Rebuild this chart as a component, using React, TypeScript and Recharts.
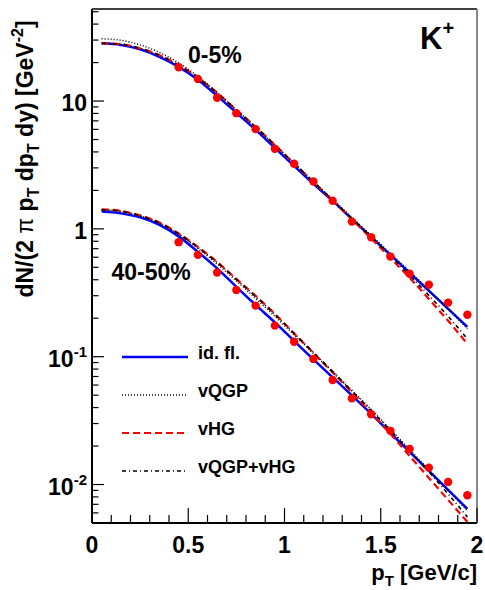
import React from 'react'
import { ComposedChart, Line, Scatter, XAxis, YAxis, ReferenceLine } from 'recharts'

const FONT = '"Liberation Sans", Arial, Helvetica, sans-serif'

// model curves, sampled in pT [GeV/c]
const modelPt = [0.05, 0.15, 0.25, 0.35, 0.45, 0.55, 0.65, 0.75, 0.85, 0.95, 1.05, 1.15, 1.25, 1.35, 1.45, 1.55, 1.65, 1.75, 1.85, 1.95]

// 0-5%
const idfl05 = [28.3, 27.5, 25.4, 22.2, 18.5, 14.7, 10.98, 8.08, 5.95, 4.3, 3.11, 2.25, 1.656, 1.197, 0.866, 0.626, 0.453, 0.327, 0.237, 0.171]
const vqgp05 = [30.7, 29.9, 27.5, 24.0, 19.9, 15.6, 11.7, 8.53, 6.28, 4.54, 3.28, 2.35, 1.7, 1.23, 0.889, 0.643, 0.465, 0.333, 0.237, 0.165]
const vhg05 = [28.3, 27.8, 25.8, 22.8, 19.2, 15.3, 11.6, 8.53, 6.28, 4.54, 3.25, 2.33, 1.671, 1.187, 0.843, 0.593, 0.414, 0.283, 0.191, 0.126]
const both05 = [28.3, 27.8, 25.8, 22.8, 19.0, 15.2, 11.5, 8.46, 6.23, 4.5, 3.25, 2.33, 1.686, 1.208, 0.866, 0.615, 0.433, 0.302, 0.207, 0.138]

// 40-50%
const idfl4050 = [1.366, 1.322, 1.23, 1.075, 0.874, 0.661, 0.491, 0.352, 0.254, 0.1855, 0.1329, 0.0953, 0.0689, 0.0498, 0.0357, 0.0253, 0.018, 0.01278, 0.00907, 0.00644]
const vqgp4050 = [1.41, 1.371, 1.264, 1.104, 0.906, 0.704, 0.532, 0.392, 0.286, 0.2067, 0.1481, 0.1061, 0.076, 0.0545, 0.0387, 0.027, 0.0188, 0.013, 0.009, 0.00625]
const vhg4050 = [1.421, 1.383, 1.275, 1.124, 0.922, 0.723, 0.552, 0.406, 0.299, 0.2163, 0.1522, 0.1071, 0.0754, 0.0526, 0.0363, 0.0249, 0.01674, 0.01126, 0.00758, 0.0051]
const both4050 = [1.41, 1.371, 1.264, 1.114, 0.914, 0.717, 0.547, 0.403, 0.296, 0.2143, 0.1522, 0.108, 0.0767, 0.054, 0.038, 0.0265, 0.01832, 0.01255, 0.00844, 0.00558]

// measured K+ points
const dataPt = [0.45, 0.55, 0.65, 0.75, 0.85, 0.95, 1.05, 1.15, 1.25, 1.35, 1.45, 1.55, 1.65, 1.75, 1.85, 1.95]
const data05 = [18.4, 14.9, 10.6, 8.04, 6.03, 4.23, 3.23, 2.35, 1.66, 1.14, 0.861, 0.607, 0.445, 0.365, 0.265, 0.213]
const data4050 = [0.787, 0.626, 0.455, 0.333, 0.251, 0.175, 0.131, 0.0961, 0.0658, 0.0472, 0.0355, 0.0263, 0.019, 0.01356, 0.01048, 0.00824]

const xTicks = [0, 0.1, 0.2, 0.3, 0.4, 0.5, 0.6, 0.7, 0.8, 0.9, 1, 1.1, 1.2, 1.3, 1.4, 1.5, 1.6, 1.7, 1.8, 1.9, 2]
const xMajor = [0, 0.5, 1, 1.5, 2]
const xLabels = ['0', '0.5', '1', '1.5', '2']

const yTicks = [0.005, 0.006, 0.007, 0.008, 0.009, 0.01, 0.02, 0.03, 0.04, 0.05, 0.06, 0.07, 0.08, 0.09, 0.1,
  0.2, 0.3, 0.4, 0.5, 0.6, 0.7, 0.8, 0.9, 1, 2, 3, 4, 5, 6, 7, 8, 9, 10, 20, 30, 40, 50]
const yMajor = [0.01, 0.1, 1, 10]
const yLabels = [['10', '-2'], ['10', '-1'], ['1', ''], ['10', '']]

const yDomain = [0.005, 52.5]

const series = [
  { name: 'id. fl.', stroke: '#0000ff', width: 2.5, dash: undefined as string | undefined },
  { name: 'vQGP', stroke: '#000', width: 1.5, dash: '1 2' },
  { name: 'vHG', stroke: '#ff0000', width: 2.2, dash: '7 4' },
  { name: 'vQGP+vHG', stroke: '#000', width: 1.6, dash: '4 3 1 3' },
]

const toPts = (xs: number[], ys: number[]) => xs.map((x, i) => ({ x, y: ys[i] }))

const XTick = (props: any) => {
  const { x, y, payload } = props
  const i = xMajor.indexOf(payload.value)
  const len = i >= 0 ? 15 : 8
  return (
    <g>
      <line x1={x} y1={y} x2={x} y2={y - len} stroke="#000" strokeWidth={1.2} />
      {i >= 0 && (
        <text x={x} y={y + 30} textAnchor="middle" fontFamily={FONT} fontWeight="bold" fontSize={23} fill="#000">
          {xLabels[i]}
        </text>
      )}
    </g>
  )
}

const YTick = (props: any) => {
  const { x, y, payload } = props
  const i = yMajor.indexOf(payload.value)
  const len = i >= 0 ? 12 : 6.5
  return (
    <g>
      <line x1={x} y1={y} x2={x + len} y2={y} stroke="#000" strokeWidth={1.2} />
      {i >= 0 && (
        <text x={x - 5} y={y + 10} textAnchor="end" fontFamily={FONT} fontWeight="bold" fontSize={23} fill="#000">
          {yLabels[i][0]}
          {yLabels[i][1] && <tspan fontSize={15} dy={-10}>{yLabels[i][1]}</tspan>}
        </text>
      )}
    </g>
  )
}

const Dot = (props: any) => <circle cx={props.cx} cy={props.cy} r={4.2} fill="#ff0000" />

export default function App() {
  const curves = [
    [idfl05, vqgp05, vhg05, both05],
    [idfl4050, vqgp4050, vhg4050, both4050],
  ]
  // draw order: id. fl., vHG, vQGP+vHG, vQGP
  const order = [0, 2, 3, 1]
  const legendY = [357, 395, 433, 471]

  return (
    <div style={{ position: 'absolute', left: 0, top: 0, width: 485, height: 590, background: '#fff' }}>
      <ComposedChart width={485} height={590} margin={{ top: 9, right: 8, bottom: 37, left: 32 }}>
        <XAxis
          type="number"
          dataKey="x"
          domain={[0, 2]}
          ticks={xTicks}
          interval={0}
          tickSize={0}
          tickMargin={0}
          height={30}
          tick={<XTick />}
          axisLine={{ stroke: '#000', strokeWidth: 2 }}
          tickLine={false}
          allowDataOverflow
        />
        <YAxis
          type="number"
          dataKey="y"
          scale="log"
          domain={yDomain}
          ticks={yTicks}
          interval={0}
          tickSize={0}
          tickMargin={0}
          width={60}
          tick={<YTick />}
          axisLine={{ stroke: '#000', strokeWidth: 2 }}
          tickLine={false}
          allowDataOverflow
        />
        <ReferenceLine y={yDomain[1]} stroke="#000" strokeWidth={1.5} />
        <ReferenceLine x={2} stroke="#888" strokeWidth={2} />
        {curves.map((set, c) =>
          order.map((k) => (
            <Line
              key={`${c}-${k}`}
              data={toPts(modelPt, set[k])}
              dataKey="y"
              type="monotone"
              stroke={series[k].stroke}
              strokeWidth={series[k].width}
              strokeDasharray={series[k].dash}
              dot={false}
              activeDot={false}
              isAnimationActive={false}
            />
          ))
        )}
        <Scatter data={toPts(dataPt, data05)} dataKey="y" shape={<Dot />} isAnimationActive={false} />
        <Scatter data={toPts(dataPt, data4050)} dataKey="y" shape={<Dot />} isAnimationActive={false} />
      </ComposedChart>

      <svg width={485} height={590} style={{ position: 'absolute', left: 0, top: 0, pointerEvents: 'none' }}
        fontFamily={FONT} fontWeight="bold" fill="#000">
        <text x={420} y={49} fontSize={31}>
          K<tspan fontSize={20} dy={-14}>+</tspan>
        </text>
        <text x={188} y={62.5} fontSize={23}>0-5%</text>
        <text x={111.5} y={280} fontSize={23}>40-50%</text>

        <text x={33} y={159} fontSize={23} textAnchor="middle" transform="rotate(-90 33 159)">
          dN/(2 <tspan fontWeight="normal">π</tspan> p<tspan fontSize={16} dy={6}>T</tspan>
          <tspan dy={-6}> dp</tspan><tspan fontSize={16} dy={6}>T</tspan>
          <tspan dy={-6}> dy) [GeV</tspan><tspan fontSize={16} dy={-10}>-2</tspan>
          <tspan dy={10}>]</tspan>
        </text>

        <text x={477} y={580} fontSize={22} textAnchor="end">
          p<tspan fontSize={15} dy={6}>T</tspan><tspan dy={-6}> [GeV/c]</tspan>
        </text>

        {series.map((s, i) => (
          <g key={s.name}>
            <line x1={122} y1={legendY[i]} x2={188} y2={legendY[i]} stroke={s.stroke}
              strokeWidth={s.width} strokeDasharray={s.dash} />
            <text x={198} y={legendY[i] + 2} fontSize={18}>{s.name}</text>
          </g>
        ))}
      </svg>
    </div>
  )
}
